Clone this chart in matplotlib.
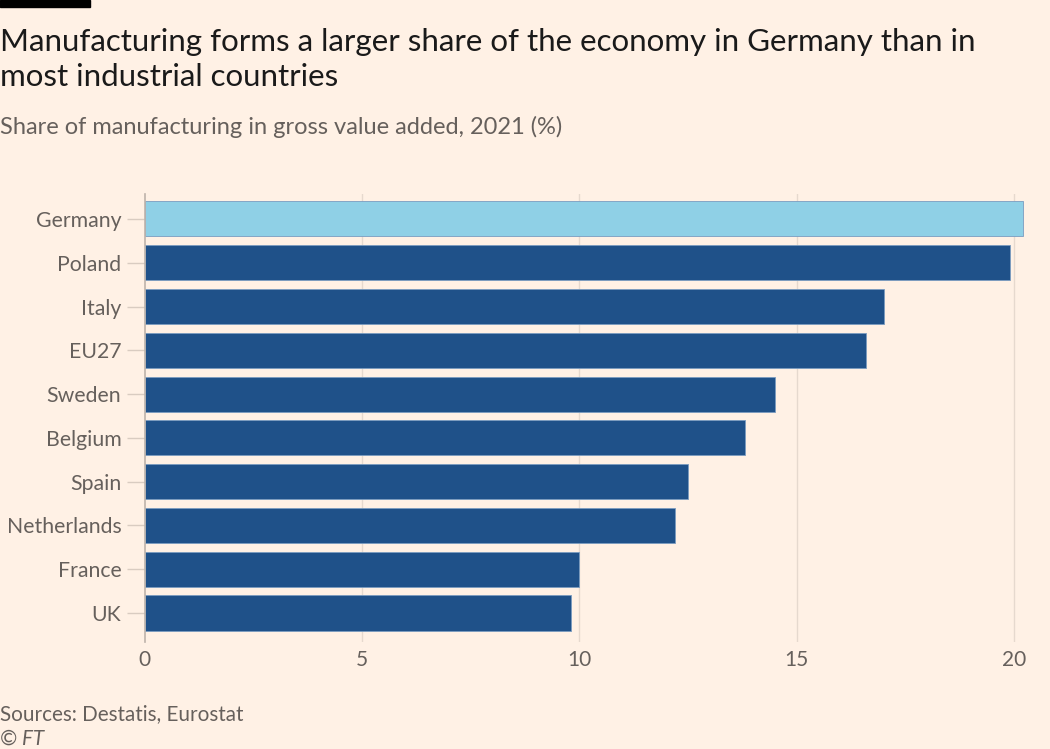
import matplotlib.pyplot as plt

# Share of manufacturing in gross value added, 2021 (%)
countries = ['Germany', 'Poland', 'Italy', 'EU27', 'Sweden',
             'Belgium', 'Spain', 'Netherlands', 'France', 'UK']
shares = [20.2, 19.9, 17.0, 16.6, 14.5, 13.8, 12.5, 12.2, 10.0, 9.8]
xticks = [0, 5, 10, 15, 20]

bg = '#FFF1E5'
dark = '#1F5189'
light = '#8FD0E6'
grey = '#66605C'

plt.rcParams['font.family'] = ['Lato', 'DejaVu Sans']

fig = plt.figure(figsize=(10.5, 7.49), dpi=100, facecolor=bg)
ax = fig.add_axes([0.138, 0.143, 0.838, 0.598], facecolor=bg)

colors = [light if c == 'Germany' else dark for c in countries]
ypos = list(range(len(countries)))
ax.barh(ypos, shares, height=0.8, color=colors,
        edgecolor='#7A9CC0', linewidth=0.6, zorder=3)

ax.set_ylim(9.66, -0.57)
ax.set_xlim(0, 20.25)
ax.set_yticks(ypos)
ax.set_yticklabels(countries, fontsize=15.3, color=grey)
ax.set_xticks(xticks)
ax.set_xticklabels([str(t) for t in xticks], fontsize=15, color=grey)

ax.tick_params(axis='y', length=13, color='#D9CCC1', width=1, pad=4)
ax.tick_params(axis='x', length=0, pad=6)
for t in xticks[1:]:
    ax.axvline(t, color='#E6D9CE', linewidth=1, zorder=1)
for s in ['top', 'right', 'bottom']:
    ax.spines[s].set_visible(False)
ax.spines['left'].set_color('#BDB3AB')
ax.spines['left'].set_linewidth(1.2)
ax.spines['left'].set_zorder(4)

# header
fig.add_artist(plt.Rectangle((0, 0.991), 0.086, 0.009, transform=fig.transFigure,
                             color='black'))
fig.text(0.0, 0.963, 'Manufacturing forms a larger share of the economy in Germany than in\nmost industrial countries',
         fontsize=22.5, color='#1A1A1A', va='top', ha='left', linespacing=1.33)
fig.text(0.0, 0.830, 'Share of manufacturing in gross value added, 2021 (%)',
         fontsize=17, color=grey, va='center', ha='left')

# footer
fig.text(0.0, 0.047, 'Sources: Destatis, Eurostat', fontsize=14.9, color=grey,
         va='center', ha='left')
fig.text(0.0, 0.014, '© FT', fontsize=14.9, color=grey, style='italic',
         va='center', ha='left')

fig.savefig('out.png', dpi=100, facecolor=bg)
